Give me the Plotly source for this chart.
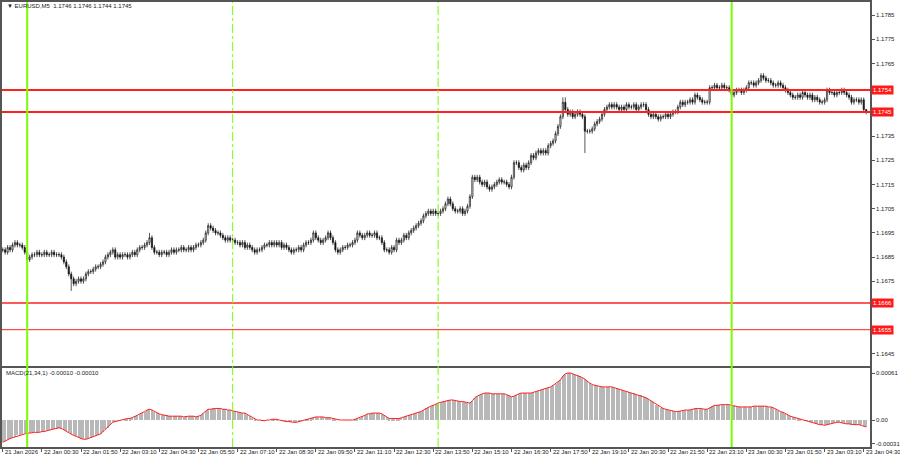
import plotly.graph_objects as go

# ---------------- DATA ----------------
symbol_title = "\u25bc EURUSD,M5  1.1746 1.1746 1.1744 1.1745"
macd_title = "MACD(21,34,1) -0.00010 -0.00010"

# M5 bars from 21 Jan 23:10 to 23 Jan 04:35 (354 bars), closing prices
close_prices = [
    # 21 Jan 23:10-23:55
    1.1688, 1.1687, 1.1689, 1.1688, 1.1690, 1.1691, 1.1690, 1.1690, 1.1689, 1.1687,
    # 22 Jan 00h
    1.1684, 1.1685, 1.1686, 1.1686, 1.1687, 1.1686, 1.1686, 1.1687, 1.1686, 1.1686, 1.1687, 1.1686,
    # 01h
    1.1686, 1.1686, 1.1685, 1.1683, 1.1681, 1.1678, 1.1676, 1.1674, 1.1675, 1.1676, 1.1675, 1.1676,
    # 02h
    1.1678, 1.1679, 1.1679, 1.1680, 1.1681, 1.1681, 1.1682, 1.1683, 1.1685, 1.1686, 1.1687, 1.1688,
    # 03h
    1.1685, 1.1686, 1.1685, 1.1686, 1.1686, 1.1685, 1.1686, 1.1687, 1.1686, 1.1688, 1.1689, 1.1689,
    # 04h
    1.1690, 1.1691, 1.1693, 1.1689, 1.1687, 1.1687, 1.1686, 1.1687, 1.1687, 1.1686, 1.1687, 1.1688,
    # 05h
    1.1687, 1.1688, 1.1688, 1.1689, 1.1688, 1.1688, 1.1689, 1.1688, 1.1689, 1.1690, 1.1690, 1.1691,
    # 06h
    1.1692, 1.1695, 1.1698, 1.1697, 1.1696, 1.1695, 1.1695, 1.1694, 1.1693, 1.1692, 1.1693, 1.1692,
    # 07h
    1.1692, 1.1691, 1.1691, 1.1690, 1.1691, 1.1689, 1.1690, 1.1689, 1.1688, 1.1687, 1.1688, 1.1688,
    # 08h
    1.1689, 1.1690, 1.1690, 1.1691, 1.1690, 1.1691, 1.1690, 1.1691, 1.1689, 1.1690, 1.1689, 1.1688,
    # 09h
    1.1687, 1.1688, 1.1688, 1.1689, 1.1688, 1.1690, 1.1691, 1.1691, 1.1692, 1.1695, 1.1693, 1.1692,
    # 10h
    1.1691, 1.1692, 1.1693, 1.1695, 1.1693, 1.1691, 1.1688, 1.1687, 1.1688, 1.1689, 1.1689, 1.1690,
    # 11h
    1.1690, 1.1691, 1.1692, 1.1695, 1.1694, 1.1693, 1.1694, 1.1695, 1.1694, 1.1694, 1.1695, 1.1693,
    # 12h
    1.1693, 1.1691, 1.1688, 1.1688, 1.1687, 1.1689, 1.1688, 1.1692, 1.1691, 1.1692, 1.1694, 1.1693,
    # 13h
    1.1695, 1.1696, 1.1697, 1.1698, 1.1699, 1.1700, 1.1702, 1.1703, 1.1704, 1.1703, 1.1704, 1.1703,
    # 14h
    1.1703, 1.1704, 1.1705, 1.1707, 1.1709, 1.1707, 1.1705, 1.1704, 1.1704, 1.1705, 1.1703, 1.1704,
    # 15h
    1.1706, 1.1710, 1.1718, 1.1717, 1.1718, 1.1716, 1.1715, 1.1716, 1.1714, 1.1713, 1.1714, 1.1715,
    # 16h
    1.1716, 1.1717, 1.1716, 1.1716, 1.1715, 1.1714, 1.1718, 1.1724, 1.1724, 1.1722, 1.1721, 1.1723,
    # 17h
    1.1722, 1.1724, 1.1727, 1.1726, 1.1728, 1.1729, 1.1728, 1.1729, 1.1728, 1.1731, 1.1732, 1.1733,
    # 18h
    1.1736, 1.1739, 1.1743, 1.1749, 1.1746, 1.1744, 1.1745, 1.1743, 1.1744, 1.1745, 1.1744, 1.1743,
    # 19h
    1.1737, 1.1737, 1.1737, 1.1738, 1.1740, 1.1741, 1.1742, 1.1744, 1.1746, 1.1747, 1.1748, 1.1747,
    # 20h
    1.1748, 1.1747, 1.1746, 1.1747, 1.1746, 1.1748, 1.1747, 1.1747, 1.1748, 1.1746, 1.1747, 1.1748,
    # 21h
    1.1748, 1.1746, 1.1744, 1.1743, 1.1744, 1.1743, 1.1742, 1.1743, 1.1743, 1.1744, 1.1743, 1.1744,
    # 22h
    1.1745, 1.1745, 1.1747, 1.1749, 1.1748, 1.1749, 1.1749, 1.1750, 1.1749, 1.1752, 1.1751, 1.1750,
    # 23h
    1.1749, 1.1749, 1.1749, 1.1755, 1.1755, 1.1756, 1.1755, 1.1755, 1.1756, 1.1755, 1.1755, 1.1754,
    # 23 Jan 00h
    1.1752, 1.1753, 1.1754, 1.1754, 1.1753, 1.1754, 1.1755, 1.1757, 1.1757, 1.1756, 1.1757, 1.1758,
    # 01h
    1.1760, 1.1759, 1.1758, 1.1758, 1.1757, 1.1756, 1.1756, 1.1757, 1.1756, 1.1755, 1.1754, 1.1753,
    # 02h
    1.1752, 1.1751, 1.1751, 1.1752, 1.1751, 1.1753, 1.1752, 1.1751, 1.1752, 1.1750, 1.1751, 1.1750,
    # 03h
    1.1749, 1.1749, 1.1750, 1.1754, 1.1753, 1.1753, 1.1752, 1.1753, 1.1753, 1.1754, 1.1753, 1.1752,
    # 04h
    1.1751, 1.1749, 1.1750, 1.1750, 1.1749, 1.1750, 1.1746, 1.1745,
]
first_open = 1.1688
wick_highs = {60: 1.1695, 84: 1.1699, 182: 1.1710, 229: 1.1751, 230: 1.1751,
              283: 1.1753, 310: 1.1761, 353: 1.1746}
wick_lows = {28: 1.1671, 238: 1.1728, 299: 1.1751, 353: 1.1744}
wick_pad = 0.00010

# MACD(21,34,1) main values per bar (signal SMA(1) equals main)
macd_values = [
    -0.00029, -0.00027, -0.00026, -0.00024, -0.00023, -0.00022, -0.00020, -0.00019, -0.00018, -0.00017,
    -0.00017, -0.00017, -0.00016, -0.00016, -0.00016, -0.00016, -0.00015, -0.00015, -0.00014, -0.00013, -0.00013, -0.00012,
    -0.00011, -0.00010, -0.00011, -0.00013, -0.00014, -0.00016, -0.00018, -0.00020, -0.00021, -0.00023, -0.00024, -0.00025,
    -0.00025, -0.00024, -0.00023, -0.00022, -0.00021, -0.00019, -0.00018, -0.00015, -0.00012, -0.00010, -0.00006, -0.00003,
    -0.00002, -0.00001, -0.00001, 0.00000, 0.00001, 0.00002, 0.00002, 0.00003, 0.00005, 0.00006, 0.00008, 0.00009,
    0.00011, 0.00013, 0.00014, 0.00013, 0.00011, 0.00009, 0.00008, 0.00007, 0.00006, 0.00006, 0.00005, 0.00005,
    0.00005, 0.00005, 0.00005, 0.00005, 0.00004, 0.00005, 0.00005, 0.00005, 0.00005, 0.00004, 0.00005, 0.00006,
    0.00009, 0.00012, 0.00014, 0.00014, 0.00015, 0.00015, 0.00015, 0.00015, 0.00014, 0.00014, 0.00013, 0.00013,
    0.00012, 0.00011, 0.00011, 0.00010, 0.00009, 0.00009, 0.00007, 0.00005, 0.00003, 0.00001, 0.00000, 0.00000,
    -0.00001, -0.00001, 0.00000, 0.00000, 0.00001, 0.00001, 0.00001, 0.00000, -0.00001, -0.00001, -0.00002, -0.00002,
    -0.00003, -0.00003, -0.00003, -0.00002, -0.00001, 0.00000, 0.00001, 0.00001, 0.00002, 0.00003, 0.00004, 0.00004,
    0.00004, 0.00004, 0.00003, 0.00003, 0.00003, 0.00002, 0.00001, 0.00000, 0.00000, 0.00000, 0.00000, 0.00000,
    0.00000, 0.00000, 0.00001, 0.00002, 0.00003, 0.00005, 0.00006, 0.00008, 0.00008, 0.00009, 0.00009, 0.00009,
    0.00009, 0.00008, 0.00006, 0.00004, 0.00002, 0.00002, 0.00002, 0.00002, 0.00002, 0.00003, 0.00004, 0.00005,
    0.00006, 0.00007, 0.00008, 0.00009, 0.00010, 0.00011, 0.00013, 0.00015, 0.00017, 0.00018, 0.00019, 0.00021,
    0.00022, 0.00023, 0.00024, 0.00025, 0.00026, 0.00026, 0.00026, 0.00025, 0.00025, 0.00024, 0.00024, 0.00023,
    0.00022, 0.00022, 0.00025, 0.00029, 0.00031, 0.00033, 0.00034, 0.00035, 0.00035, 0.00035, 0.00034, 0.00034,
    0.00034, 0.00034, 0.00034, 0.00034, 0.00033, 0.00032, 0.00030, 0.00031, 0.00033, 0.00034, 0.00035, 0.00035,
    0.00035, 0.00035, 0.00035, 0.00036, 0.00037, 0.00038, 0.00039, 0.00040, 0.00041, 0.00042, 0.00043, 0.00045,
    0.00047, 0.00049, 0.00052, 0.00057, 0.00060, 0.00061, 0.00061, 0.00060, 0.00059, 0.00058, 0.00057, 0.00055,
    0.00053, 0.00050, 0.00048, 0.00046, 0.00045, 0.00044, 0.00043, 0.00043, 0.00043, 0.00043, 0.00043, 0.00043,
    0.00042, 0.00041, 0.00040, 0.00039, 0.00038, 0.00037, 0.00036, 0.00035, 0.00035, 0.00034, 0.00033, 0.00032,
    0.00030, 0.00029, 0.00027, 0.00025, 0.00023, 0.00020, 0.00018, 0.00016, 0.00015, 0.00014, 0.00013, 0.00012,
    0.00012, 0.00011, 0.00011, 0.00012, 0.00012, 0.00013, 0.00013, 0.00013, 0.00014, 0.00015, 0.00015, 0.00015,
    0.00014, 0.00014, 0.00014, 0.00016, 0.00018, 0.00019, 0.00019, 0.00020, 0.00020, 0.00020, 0.00020, 0.00020,
    0.00019, 0.00018, 0.00017, 0.00017, 0.00017, 0.00017, 0.00017, 0.00017, 0.00017, 0.00018, 0.00018, 0.00018,
    0.00018, 0.00018, 0.00018, 0.00017, 0.00017, 0.00016, 0.00014, 0.00012, 0.00011, 0.00010, 0.00008, 0.00006,
    0.00005, 0.00004, 0.00003, 0.00002, 0.00001, 0.00000, -0.00001, -0.00001, -0.00002, -0.00003, -0.00004, -0.00005,
    -0.00006, -0.00006, -0.00007, -0.00006, -0.00005, -0.00004, -0.00004, -0.00003, -0.00003, -0.00004, -0.00004, -0.00005,
    -0.00005, -0.00006, -0.00006, -0.00006, -0.00006, -0.00007, -0.00008, -0.00009,
]
macd_signal = macd_values

tick_labels = [
    "21 Jan 2026", "22 Jan 00:30", "22 Jan 01:50", "22 Jan 03:10", "22 Jan 04:30",
    "22 Jan 05:50", "22 Jan 07:10", "22 Jan 08:30", "22 Jan 09:50", "22 Jan 11:10",
    "22 Jan 12:30", "22 Jan 13:50", "22 Jan 15:10", "22 Jan 16:30", "22 Jan 17:50",
    "22 Jan 19:10", "22 Jan 20:30", "22 Jan 21:50", "22 Jan 23:10", "23 Jan 00:30",
    "23 Jan 01:50", "23 Jan 03:10", "23 Jan 04:30",
]
tick_bars = [16 * k for k in range(len(tick_labels))]

price_ticks = [1.1645, 1.1655, 1.1665, 1.1675, 1.1685, 1.1695, 1.1705, 1.1715,
               1.1725, 1.1735, 1.1745, 1.1755, 1.1765, 1.1775, 1.1785]
level_prices = [1.1754, 1.1745, 1.1666, 1.1655]
level_widths = [2, 2, 1.6, 1]
day_start_bars = [10, 298]        # 22 Jan 00:00, 23 Jan 00:00
session_bars = [94, 178]          # 22 Jan 07:00, 22 Jan 14:00
macd_ticks = [0.00061, 0.0, -0.00031]
macd_tick_text = ["0.00061", "0.00", "-0.00031"]

# ---------------- BUILD ----------------
n = len(close_prices)
idx = list(range(n))
opens = [first_open] + close_prices[:-1]
highs, lows = [], []
for i in range(n):
    hi = max(opens[i], close_prices[i])
    lo = min(opens[i], close_prices[i])
    highs.append(wick_highs.get(i, hi + wick_pad))
    lows.append(wick_lows.get(i, lo - wick_pad))

W, H = 900, 460
X0, X1 = 2, 874
MAIN_TOP, MAIN_BOT = 2, 366
MACD_TOP, MACD_BOT = 368, 447
px_per_bar = 2.457
x_range = [-0.3, -0.3 + (X1 - X0) / px_per_bar]

def py(y):
    return (H - y) / H

# tick labels hidden under the red level boxes (as in the terminal)
def price_text(t):
    covered = any(abs(t - p) < 0.00035 for p in level_prices)
    return "" if covered else f"{t:.4f}"

FONT = "Liberation Sans, Arial, sans-serif"
AX = "#555555"

fig = go.Figure()
fig.add_trace(go.Candlestick(
    x=idx, open=opens, high=highs, low=lows, close=close_prices,
    increasing=dict(line=dict(color="#111111", width=0.7), fillcolor="white"),
    decreasing=dict(line=dict(color="#111111", width=0.7), fillcolor="#111111"),
    whiskerwidth=0, xaxis="x", yaxis="y", showlegend=False, hoverinfo="skip",
))
fig.add_trace(go.Bar(
    x=idx, y=macd_values, width=0.45, marker=dict(color="#b8b8b8", line=dict(width=0)),
    xaxis="x2", yaxis="y2", showlegend=False, hoverinfo="skip",
))
fig.add_trace(go.Scatter(
    x=idx, y=macd_signal, mode="lines", line=dict(color="#ff2020", width=1),
    xaxis="x2", yaxis="y2", showlegend=False, hoverinfo="skip",
))

shapes = []
for p, w in zip(level_prices, level_widths):
    shapes.append(dict(type="line", xref="paper", yref="y", x0=X0 / W, x1=X1 / W,
                       y0=p, y1=p, line=dict(color="#ff2020", width=w), layer="above"))
for b in day_start_bars:
    shapes.append(dict(type="line", xref="x", yref="paper", x0=b, x1=b,
                       y0=py(MACD_BOT), y1=py(MAIN_TOP),
                       line=dict(color="#7CFC00", width=2), layer="above"))
for b in session_bars:
    shapes.append(dict(type="line", xref="x", yref="paper", x0=b, x1=b,
                       y0=py(MACD_BOT), y1=py(MAIN_TOP),
                       line=dict(color="#7CFC00", width=1, dash="dashdot"), layer="above"))

annotations = []
for p in level_prices:
    annotations.append(dict(xref="paper", yref="y", x=(X1 + 1) / W, y=p, xanchor="left",
                            yanchor="middle", text=f"{p:.4f}", showarrow=False,
                            font=dict(family=FONT, size=6, color="white"),
                            bgcolor="#ff1a1a", borderpad=1, width=19, align="left"))
for b, lab in zip(tick_bars, tick_labels):
    annotations.append(dict(xref="x2", yref="paper", x=b, y=py(452), xanchor="left",
                            yanchor="middle", text=lab, showarrow=False,
                            font=dict(family=FONT, size=6, color="#222")))
annotations.append(dict(xref="paper", yref="paper", x=5 / W, y=py(6), xanchor="left",
                        yanchor="middle", text=symbol_title, showarrow=False,
                        font=dict(family=FONT, size=6, color="#222")))
annotations.append(dict(xref="paper", yref="paper", x=4 / W, y=py(373), xanchor="left",
                        yanchor="middle", text=macd_title, showarrow=False,
                        font=dict(family=FONT, size=6, color="#222")))

axis_common = dict(showgrid=False, zeroline=False, showline=True, mirror=True,
                   linecolor=AX, linewidth=1.5)
fig.update_layout(
    width=W, height=H, autosize=False,
    margin=dict(l=0, r=0, t=0, b=0),
    paper_bgcolor="white", plot_bgcolor="white",
    showlegend=False, bargap=0,
    xaxis=dict(domain=[X0 / W, X1 / W], range=x_range, anchor="y",
               showticklabels=False, ticks="", rangeslider=dict(visible=False), **axis_common),
    yaxis=dict(domain=[py(MAIN_BOT), py(MAIN_TOP)], range=[1.16400, 1.17904], side="right",
               anchor="x", tickvals=price_ticks, ticktext=[price_text(t) for t in price_ticks],
               ticks="outside", ticklen=3, tickcolor=AX,
               tickfont=dict(family=FONT, size=6, color="#222"), **axis_common),
    xaxis2=dict(domain=[X0 / W, X1 / W], range=x_range, anchor="y2", matches="x",
                tickvals=tick_bars, showticklabels=False, ticks="outside", ticklen=3,
                tickcolor=AX, **axis_common),
    yaxis2=dict(domain=[py(MACD_BOT), py(MACD_TOP)], range=[-0.00035, 0.000675], side="right",
                anchor="x2", tickvals=macd_ticks, ticktext=macd_tick_text,
                ticks="outside", ticklen=3, tickcolor=AX,
                tickfont=dict(family=FONT, size=6, color="#222"), **axis_common),
    shapes=shapes, annotations=annotations,
)

fig.write_html("out.html", config={"displayModeBar": False},
               post_script="document.body.style.margin='0';document.body.style.overflow='hidden';")
